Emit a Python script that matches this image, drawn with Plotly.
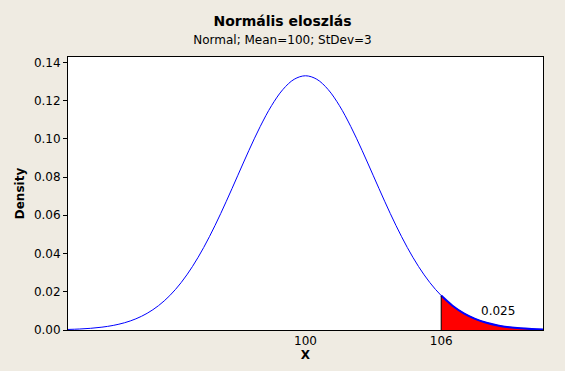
import plotly.graph_objects as go

# Values (density of the displayed curve)
x_vals = [89.5, 90.0, 90.5, 91.0, 91.5, 92.0, 92.5, 93.0, 93.5, 94.0, 94.5,
          95.0, 95.5, 96.0, 96.5, 97.0, 97.5, 98.0, 98.5, 99.0, 99.5, 100.0,
          100.5, 101.0, 101.5, 102.0, 102.5, 103.0, 103.5, 104.0, 104.5, 105.0,
          105.5, 106.0, 106.5, 107.0, 107.5, 108.0, 108.5, 109.0, 109.5, 110.0, 110.5]
half = [0.00029, 0.00051, 0.00088, 0.00148, 0.00240, 0.00380, 0.00584, 0.00874,
        0.01272, 0.01800, 0.02477, 0.03316, 0.04317, 0.05467, 0.06734, 0.08066,
        0.09397, 0.10648, 0.11736, 0.12579, 0.13115]
density = half + [0.13298] + half[::-1]

tail_start = 106
tail_label = "0.025"
y_ticks = [0.00, 0.02, 0.04, 0.06, 0.08, 0.10, 0.12, 0.14]
x_ticks = [100, 106]

tail_x = [x for x in x_vals if x >= tail_start]
tail_y = [d for x, d in zip(x_vals, density) if x >= tail_start]

FONT = "DejaVu Sans"
fig = go.Figure()
fig.add_trace(go.Scatter(x=tail_x, y=tail_y, mode="lines", fill="tozeroy",
                         fillcolor="#FF0000", line=dict(color="#0000FF", width=2, shape="spline"),
                         hoverinfo="skip", showlegend=False))
fig.add_trace(go.Scatter(x=[tail_start, tail_start], y=[0, tail_y[0]], mode="lines",
                         line=dict(color="black", width=1), showlegend=False))
fig.add_trace(go.Scatter(x=x_vals, y=density, mode="lines",
                         line=dict(color="#0000FF", width=1, shape="spline"), showlegend=False))

fig.add_annotation(x=108.5, y=0.0099, text=tail_label, showarrow=False,
                   font=dict(family=FONT, size=12, color="black"))

fig.update_layout(
    width=565, height=371,
    paper_bgcolor="#EFEBE2", plot_bgcolor="white",
    margin=dict(l=68, r=22, t=57, b=41),
    font=dict(family=FONT, size=12, color="black"),
    title=dict(text="<b>Normális eloszlás</b><br><span style='font-size:12px'>Normal; Mean=100; StDev=3</span>",
               x=0.5, xanchor="center", y=0.93, yanchor="top",
               font=dict(family=FONT, size=14, color="black")),
)
fig.update_xaxes(range=[89.5, 110.5], tickvals=x_ticks, ticktext=[str(t) for t in x_ticks],
                 showgrid=False, zeroline=False, showline=True, linecolor="black", linewidth=1,
                 mirror=True, ticks="", tickfont=dict(size=12),
                 title=dict(text="<b>X</b>", standoff=2, font=dict(family=FONT, size=12)))
fig.update_yaxes(range=[0, 0.1428], tickvals=y_ticks, tickformat=".2f",
                 showgrid=False, zeroline=False, showline=True, linecolor="black", linewidth=1,
                 mirror=True, ticks="outside", ticklen=4, tickcolor="black", tickfont=dict(size=12),
                 title=dict(text="<b>Density</b>", standoff=6, font=dict(family=FONT, size=12)))

fig.write_html("out.html", config={"displayModeBar": False},
               post_script="document.body.style.margin='0';")
